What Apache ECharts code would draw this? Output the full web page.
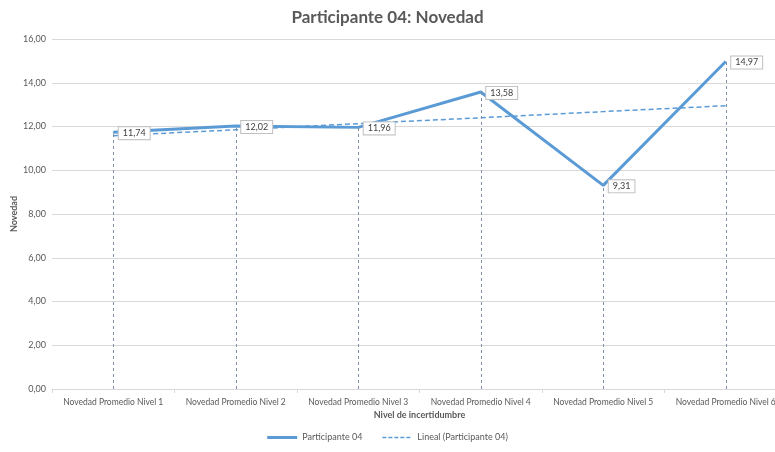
<!DOCTYPE html>
<html>
<head>
  <meta charset="UTF-8">
  <title>Participante 04: Novedad</title>
  <script type="text/javascript" src="https://cdn.jsdelivr.net/npm/echarts@6/dist/echarts.min.js"></script>
  <style>
    html, body { margin: 0; padding: 0; background: #fff; }
  </style>
</head>
<body>
<div id="chart" style="width:775px; height:452px;"></div>
<script>
  // datos
  const categories = ['Novedad Promedio Nivel 1', 'Novedad Promedio Nivel 2', 'Novedad Promedio Nivel 3',
    'Novedad Promedio Nivel 4', 'Novedad Promedio Nivel 5', 'Novedad Promedio Nivel 6'];
  const values = [11.74, 12.02, 11.96, 13.58, 9.31, 14.97];
  // linea de tendencia (Lineal)
  const trendValues = [11.58, 11.85, 12.13, 12.40, 12.68, 12.95];
  const yTicks = { min: 0, max: 16, interval: 2 };

  const font = 'Lato, "Liberation Sans", sans-serif';
  const fmt = v => v.toFixed(2).replace('.', ',');

  // iconos de leyenda: linea continua y linea discontinua
  const solidIcon = 'path://M0,0h30v3h-30z';
  const dashIcon = 'path://M0,0.8h4v1.5h-4z M6,0.8h4v1.5h-4z M12,0.8h4v1.5h-4z M18,0.8h4v1.5h-4z M24,0.8h4v1.5h-4z M0,0h0.01v0.01h-0.01z M29.99,3h0.01v0.01h-0.01z';

  let chart = echarts.init(document.getElementById('chart'), null, {renderer: 'canvas'});

  chart.setOption({
    animation: false,
    textStyle: { fontFamily: font },
    title: {
      text: 'Participante 04: Novedad',
      left: 'center', top: 4,
      textStyle: { fontSize: 17, fontWeight: 'bold', color: '#595959', fontFamily: font }
    },
    // el area de trazado sobresale del borde derecho, como en el original
    grid: { left: 52, width: 735, top: 39, height: 350, outerBoundsMode: 'none', containLabel: false },
    legend: {
      bottom: 5, left: 'center',
      itemWidth: 30, itemHeight: 3, itemGap: 20,
      textStyle: { fontSize: 9, color: '#595959' },
      data: [
        { name: 'Participante 04', icon: solidIcon },
        { name: 'Lineal (Participante 04)', icon: dashIcon }
      ]
    },
    xAxis: {
      type: 'category',
      data: categories,
      name: 'Nivel de incertidumbre',
      nameLocation: 'middle', nameGap: 22, nameMoveOverlap: false,
      nameTextStyle: { fontSize: 9, fontWeight: 'bold', color: '#595959' },
      axisLine: { lineStyle: { color: '#D9D9D9' } },
      axisTick: { show: true, length: 4, lineStyle: { color: '#D9D9D9' } },
      axisLabel: { fontSize: 8.5, color: '#595959', margin: 9, interval: 0 }
    },
    yAxis: {
      type: 'value',
      min: yTicks.min, max: yTicks.max, interval: yTicks.interval,
      name: 'Novedad',
      nameLocation: 'middle', nameGap: 33, nameRotate: 90, nameMoveOverlap: false,
      nameTextStyle: { fontSize: 9, fontWeight: 'bold', color: '#595959' },
      axisLine: { show: false },
      axisTick: { show: false },
      axisLabel: { fontSize: 9, color: '#595959', formatter: v => fmt(v), margin: 6 },
      splitLine: { lineStyle: { color: '#D9D9D9' } }
    },
    series: [
      {
        name: 'Participante 04',
        type: 'line',
        data: values,
        symbol: 'circle',
        symbolSize: 1,
        z: 3,
        lineStyle: { color: '#5B9BD5', width: 3 },
        itemStyle: { color: '#5B9BD5' },
        label: {
          show: true, position: 'right', distance: 5, offset: [0, 1],
          formatter: p => fmt(p.value),
          fontSize: 9, color: '#404040',
          backgroundColor: '#fff', borderColor: '#BFBFBF', borderWidth: 1,
          padding: [2, 4, 1, 4]
        },
        markLine: {
          silent: true, symbol: 'none', label: { show: false },
          lineStyle: { color: '#7F8FA9', type: [3, 3], width: 1 },
          data: values.map((v, i) => [{ coord: [i, 0] }, { coord: [i, v] }])
        }
      },
      {
        name: 'Lineal (Participante 04)',
        type: 'line',
        data: trendValues,
        symbol: 'none',
        z: 2,
        lineStyle: { color: '#5B9BD5', width: 1.5, type: [5, 3] },
        itemStyle: { color: '#5B9BD5' }
      }
    ]
  });
</script>
</body>
</html>
